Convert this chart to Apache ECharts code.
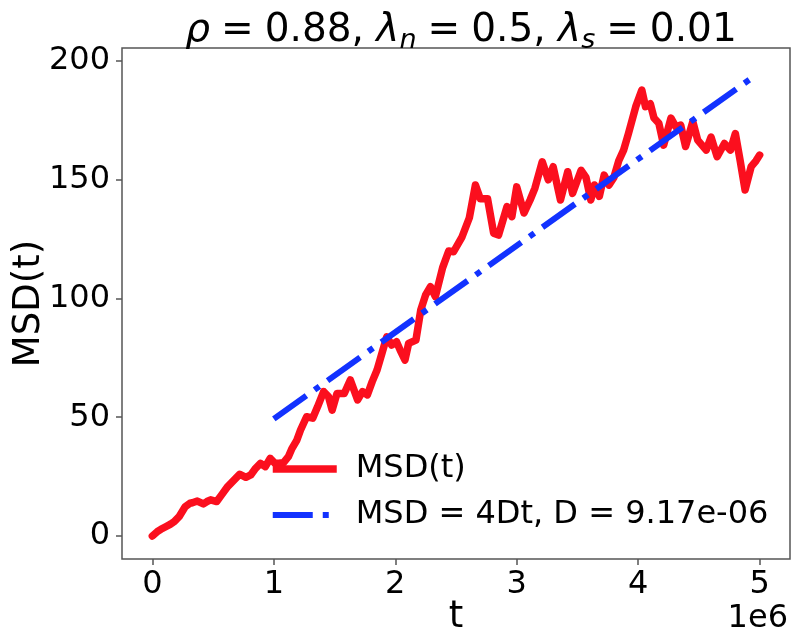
<!DOCTYPE html>
<html>
<head>
<meta charset="utf-8">
<script src="https://cdn.jsdelivr.net/npm/echarts@6/dist/echarts.min.js"></script>
<style>
  html, body { margin: 0; padding: 0; background: #fff; }
  #chart { width: 794px; height: 644px; }
</style>
</head>
<body>
<div id="chart"></div>
<script>
// t in units of 1e6
const tMillions = [0.00,0.04,0.07,0.11,0.15,0.18,0.22,0.27,0.31,0.33,0.37,0.42,0.45,0.48,0.53,0.57,0.62,0.66,0.72,0.77,0.81,0.85,0.89,0.93,0.97,1.01,1.05,1.08,1.12,1.15,1.19,1.22,1.27,1.32,1.36,1.41,1.45,1.48,1.52,1.58,1.63,1.69,1.73,1.77,1.81,1.85,1.89,1.93,1.97,2.01,2.04,2.08,2.11,2.17,2.21,2.25,2.29,2.33,2.39,2.44,2.48,2.55,2.61,2.66,2.70,2.76,2.81,2.85,2.92,2.96,3.00,3.06,3.11,3.15,3.21,3.26,3.30,3.36,3.42,3.46,3.53,3.57,3.61,3.64,3.68,3.72,3.76,3.80,3.84,3.88,3.92,3.98,4.03,4.06,4.10,4.13,4.17,4.21,4.27,4.31,4.35,4.39,4.45,4.49,4.56,4.60,4.65,4.71,4.76,4.80,4.84,4.88,4.93,4.97,5.00];
const msdValues = [0.0,1.8,2.8,3.9,5.0,6.0,8.1,12.3,13.8,14.0,14.7,13.5,14.5,15.2,14.5,17.3,20.8,22.9,26.0,24.7,25.7,28.5,30.6,29.2,32.7,30.6,30.7,30.9,33.4,36.9,40.4,44.6,50.2,49.6,54.4,60.8,58.7,53.0,60.0,60.0,65.7,57.3,60.8,59.4,65.0,69.9,76.9,83.9,80.4,81.8,78.3,74.1,81.1,82.5,95.2,101.5,105.0,100.8,113.0,120.0,119.7,126.0,134.0,147.8,142.0,142.0,127.5,126.7,138.7,134.5,147.0,136.0,141.5,146.5,157.6,150.0,155.5,141.5,153.4,144.3,154.0,151.0,141.5,147.8,143.0,152.0,147.8,151.0,158.0,162.5,169.5,180.8,187.8,180.8,182.0,176.0,173.8,164.6,176.0,172.3,173.0,164.0,174.5,166.7,162.5,168.0,159.7,165.3,162.5,169.5,158.0,145.7,155.5,158.0,160.4];
const fitT = [1.0, 4.95];
const fitMsd = [49.3, 193.4];
const xTicks = [0, 1, 2, 3, 4, 5];
const yTicks = [0, 50, 100, 150, 200];
const legendNames = ['MSD(t)', 'MSD = 4Dt, D = 9.17e-06'];

const FONT = 'DejaVu Sans';
const RED = '#fb0f1e';
const BLUE = '#1232ff';
const FRAME = '#555555';

const chart = echarts.init(document.getElementById('chart'), null, { renderer: 'canvas' });

const option = {
  animation: false,
  backgroundColor: '#ffffff',
  textStyle: { fontFamily: FONT },
  title: {
    left: 456,
    top: 3,
    textAlign: 'center',
    text: '{i|ρ}{e|=}{n|0.88, }{i|λ}{s|n}{e|=}{n|0.5, }{i|λ}{s|s}{e|=}{n|0.01}',
    textStyle: {
      fontWeight: 'normal',
      rich: {
        i: { fontFamily: FONT, fontStyle: 'italic', fontWeight: 'normal', fontSize: 39, color: '#000', lineHeight: 46 },
        n: { fontFamily: FONT, fontWeight: 'normal', fontSize: 39, color: '#000', lineHeight: 46 },
        e: { fontFamily: FONT, fontWeight: 'normal', fontSize: 39, color: '#000', lineHeight: 46, padding: [0, 11, 0, 11] },
        s: { fontFamily: FONT, fontStyle: 'italic', fontWeight: 'normal', fontSize: 27, color: '#000', lineHeight: 16, verticalAlign: 'bottom' }
      }
    }
  },
  grid: {
    left: 122, right: 4, top: 48, bottom: 85,
    show: true, borderColor: FRAME, borderWidth: 1.5,
    containLabel: false, outerBoundsMode: 'none'
  },
  legend: {
    orient: 'vertical',
    left: 264,
    top: 448,
    itemWidth: 64,
    itemHeight: 20,
    itemGap: 14,
    data: legendNames,
    itemStyle: { opacity: 0 },
    lineStyle: { width: 'inherit', cap: 'butt' },
    textStyle: { fontFamily: FONT, fontSize: 32, color: '#000', padding: [0, 0, 0, 14] }
  },
  xAxis: {
    type: 'value',
    min: -0.25,
    max: 5.25,
    axisLine: { show: false, onZero: false },
    splitLine: { show: false },
    axisTick: { show: true, length: 6, lineStyle: { color: FRAME, width: 1.5 }, customValues: xTicks },
    axisLabel: { customValues: xTicks, fontFamily: FONT, fontSize: 32, color: '#000', margin: 10 },
    name: 't',
    nameLocation: 'middle',
    nameGap: 40,
    nameMoveOverlap: false,
    nameTextStyle: { fontFamily: FONT, fontSize: 37, color: '#000' }
  },
  yAxis: {
    type: 'value',
    min: -9.7,
    max: 205.5,
    axisLine: { show: false, onZero: false },
    splitLine: { show: false },
    axisTick: { show: true, length: 6, lineStyle: { color: FRAME, width: 1.5 }, customValues: yTicks },
    axisLabel: { customValues: yTicks, fontFamily: FONT, fontSize: 32, color: '#000', margin: 12 },
    name: 'MSD(t)',
    nameLocation: 'middle',
    nameRotate: 90,
    nameGap: 74,
    nameMoveOverlap: false,
    nameTextStyle: { fontFamily: FONT, fontSize: 37, color: '#000' }
  },
  graphic: [
    {
      type: 'text',
      right: 6,
      top: 603,
      style: { text: '1e6', fontFamily: FONT, fontSize: 32, fill: '#000' }
    }
  ],
  series: [
    {
      name: legendNames[0],
      type: 'line',
      data: tMillions.map((t, i) => [t, msdValues[i]]),
      showSymbol: false,
      symbol: 'none',
      lineStyle: { color: RED, width: 7.5, join: 'round', cap: 'round' },
      itemStyle: { color: RED },
      z: 2
    },
    {
      name: legendNames[1],
      type: 'line',
      data: fitT.map((t, i) => [t, fitMsd[i]]),
      showSymbol: false,
      symbol: 'none',
      lineStyle: { color: BLUE, width: 6, type: [40, 10, 6, 10], cap: 'butt' },
      itemStyle: { color: BLUE },
      z: 3
    }
  ]
};

chart.setOption(option);
</script>
</body>
</html>
